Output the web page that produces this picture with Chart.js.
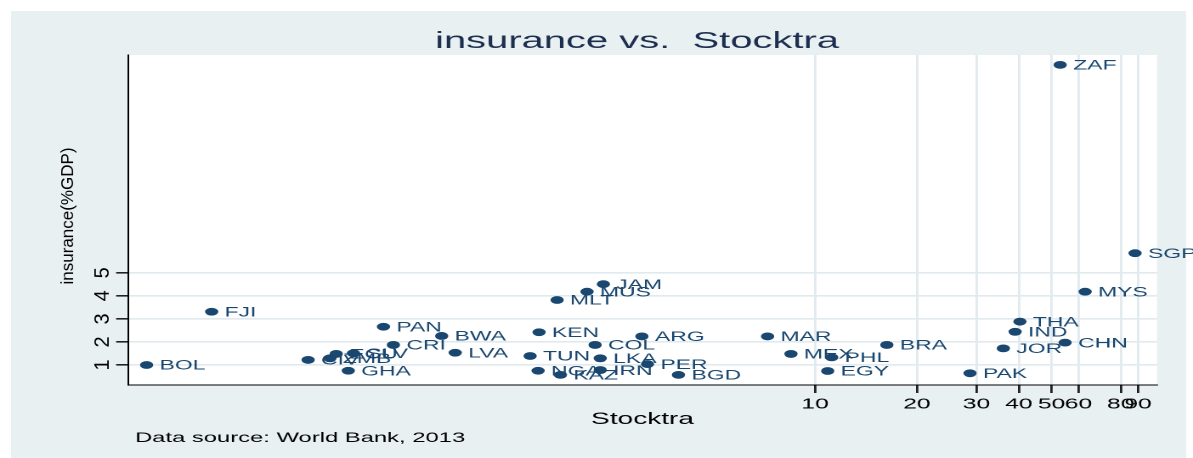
<!DOCTYPE html>
<html>
<head>
<meta charset="utf-8">
<script src="https://cdn.jsdelivr.net/npm/chart.js@4.4.1/dist/chart.umd.min.js"></script>
<style>
  html, body { margin: 0; padding: 0; background: #fff; overflow: hidden; }
  #wrap { width: 702px; height: 458px; transform: scaleX(1.69943); transform-origin: 0 0; }
</style>
</head>
<body>
<div id="wrap"><canvas id="chart" width="702" height="458"></canvas></div>
<script>
// country codes, stocks traded (% GDP, log axis), insurance (% GDP)
const countries = ["BOL", "FJI", "CIV", "ZMB", "ECU", "SLV", "GHA", "PAN", "CRI", "BWA", "LVA", "TUN", "KEN",
    "NGA", "MLT", "KAZ", "MUS", "COL", "LKA", "IRN", "JAM", "ARG", "PER", "BGD", "MAR", "MEX", "EGY", "PHL",
    "BRA", "PAK", "JOR", "IND", "THA", "ZAF", "CHN", "MYS", "SGP"];
const stocktra = [0.106, 0.165, 0.318, 0.369, 0.385, 0.433, 0.418, 0.531, 0.568, 0.789, 0.865, 1.44, 1.53,
    1.52, 1.73, 1.77, 2.12, 2.24, 2.32, 2.32, 2.37, 3.08, 3.2, 3.95, 7.24, 8.49, 10.9, 11.2,
    16.3, 28.7, 36.0, 39.0, 40.3, 53.0, 54.8, 62.8, 88.2];
const insurance = [1.0, 3.31, 1.22, 1.29, 1.48, 1.51, 0.75, 2.66, 1.87, 2.26, 1.53, 1.39, 2.42,
    0.75, 3.82, 0.57, 4.18, 1.87, 1.29, 0.78, 4.51, 2.24, 1.04, 0.57, 2.24, 1.48, 0.74, 1.33,
    1.87, 0.64, 1.72, 2.44, 2.88, 14.02, 1.97, 4.18, 5.85];
const xTicks = [10, 20, 30, 40, 50, 60, 80, 90];
const yTicks = [1, 2, 3, 4, 5];

const S = 1193 / 702; // the whole picture is stretched sideways
const navy = "#1a476f";
const bg = "#e8f0f2";
const gridCol = "#e1eaee";
const font = '"Liberation Sans", Arial, sans-serif';

const backdrop = {
    id: "backdrop",
    beforeDraw(chart) {
        const { ctx, chartArea: a } = chart;
        ctx.save();
        ctx.fillStyle = "#fff";
        ctx.fillRect(0, 0, chart.width, chart.height);
        ctx.fillStyle = bg;
        ctx.fillRect(11 / S, 11, (1186 - 11) / S, chart.height - 11);
        ctx.fillStyle = "#fff";
        ctx.fillRect(a.left, a.top, a.right - a.left, a.bottom - a.top);
        ctx.restore();
    },
};

// rotated text that is not stretched by the sideways scale
function upText(ctx, text, x, y, size, color) {
    ctx.save();
    ctx.translate(x, y);
    ctx.scale(1 / S, 1);
    ctx.rotate(-Math.PI / 2);
    ctx.font = size + "px " + font;
    ctx.fillStyle = color;
    ctx.textAlign = "center";
    ctx.textBaseline = "middle";
    ctx.fillText(text, 0, 0);
    ctx.restore();
}

const texts = {
    id: "texts",
    afterDatasetsDraw(chart) {
        const ctx = chart.ctx;
        const a = chart.chartArea;
        const pts = chart.getDatasetMeta(0).data;
        ctx.save();
        ctx.font = "13.5px " + font;
        ctx.fillStyle = navy;
        ctx.textBaseline = "middle";
        ctx.textAlign = "left";
        pts.forEach((p, i) => ctx.fillText(countries[i], p.x + 7.6, p.y + 1));

        ctx.fillStyle = "#1d2f4f";
        ctx.textAlign = "center";
        ctx.textBaseline = "alphabetic";
        ctx.font = "23.5px " + font;
        ctx.fillText("insurance vs.  Stocktra", 637 / S, 48);

        ctx.fillStyle = "#000";
        ctx.font = "16.5px " + font;
        ctx.fillText("Stocktra", (a.left + a.right) / 2, 424);

        ctx.textAlign = "left";
        ctx.font = "14px " + font;
        ctx.fillText("Data source: World Bank, 2013", 135 / S, 442);
        ctx.restore();

        const ys = chart.scales.y;
        yTicks.forEach((v) => upText(ctx, String(v), 103 / S, ys.getPixelForValue(v), 20, "#000"));
        upText(ctx, "insurance(%GDP)", 68.5 / S, (a.top + a.bottom) / 2 - 4, 17, "#000");
    },
};

new Chart(document.getElementById("chart"), {
    type: "scatter",
    data: {
        datasets: [
            {
                data: stocktra.map((x, i) => ({ x: x, y: insurance[i] })),
                backgroundColor: navy,
                borderColor: navy,
                borderWidth: 0,
                pointRadius: 3.9,
                pointHoverRadius: 3.9,
            },
        ],
    },
    options: {
        responsive: false,
        devicePixelRatio: 2,
        animation: false,
        layout: { padding: { left: 128 / S, right: 702 - 1157 / S, top: 55, bottom: 458 - 385 - 30 } },
        plugins: { legend: { display: false }, title: { display: false }, tooltip: { enabled: false } },
        scales: {
            x: {
                type: "logarithmic",
                min: 0.0934,
                max: 102.4,
                afterBuildTicks: (s) => { s.ticks = xTicks.map((v) => ({ value: v })); },
                afterFit: (s) => { s.height = 30; },
                grid: { color: gridCol, lineWidth: 1.4, tickLength: 8, tickColor: "#222" },
                border: { display: true, color: "#000", width: 1 },
                ticks: {
                    autoSkip: false,
                    maxRotation: 0,
                    minRotation: 0,
                    padding: 3,
                    color: "#000",
                    font: { family: "Liberation Sans", size: 14.5 },
                    callback: (v) => String(v),
                },
            },
            y: {
                type: "linear",
                min: 0.132,
                max: 14.45,
                afterBuildTicks: (s) => { s.ticks = yTicks.map((v) => ({ value: v })); },
                afterFit: (s) => { s.width = 0; },
                grid: { color: gridCol, lineWidth: 1.6, tickLength: 7, tickColor: "#222" },
                border: { display: true, color: "#000", width: 1 },
                ticks: { display: false },
            },
        },
    },
    plugins: [backdrop, texts],
});
</script>
</body>
</html>
